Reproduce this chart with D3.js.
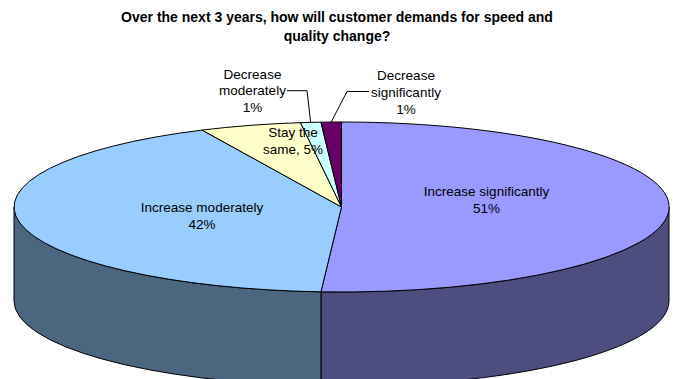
<!DOCTYPE html>
<html>
<head>
<meta charset="utf-8">
<script src="https://cdn.jsdelivr.net/npm/d3@7/dist/d3.min.js"></script>
<style>
  html, body { margin: 0; padding: 0; background: #fff; }
  svg { display: block; }
  text { font-family: "Liberation Sans", Arial, sans-serif; fill: #000; }
</style>
</head>
<body>
<svg id="chart" width="673" height="379"></svg>
<script>
// ---- data ----
const titleLines = ["Over the next 3 years, how will customer demands for speed and", "quality change?"];
const categories = ["Increase significantly", "Increase moderately", "Stay the same", "Decrease moderately", "Decrease significantly"];
const values = [51, 42, 5, 1, 1];
const labelNameLines = [["Increase significantly"], ["Increase moderately"], ["Stay the", "same,"], ["Decrease", "moderately"], ["Decrease", "significantly"]];
const pctInline = [false, false, true, false, false];

// ---- styling / layout ----
const topColors = ["#9999FF", "#99CCFF", "#FFFFCC", "#CCFFFF", "#660066"];
const sideColors = ["#4D4D80", "#4D6680", "#808066", "#668080", "#330033"];
const W = 673, H = 379;
const cx = 341.5, cy = 207, rx = 327.5, ry = 85, depth = 94;

const svg = d3.select("#chart");

// title
svg.append("g").selectAll("text").data(titleLines).join("text")
  .attr("x", 337).attr("y", (d, i) => 22 + i * 19)
  .attr("text-anchor", "middle")
  .style("font-size", "14px").style("font-weight", "bold")
  .text(d => d);

const pie = d3.pie().sort(null).value(d => d).startAngle(0).endAngle(2 * Math.PI);
const arcs = pie(values);

function pt(a, dy) {
  dy = dy || 0;
  return [cx + rx * Math.sin(a), cy - ry * Math.cos(a) + dy];
}
function fmt(p) { return p[0].toFixed(2) + "," + p[1].toFixed(2); }

// side walls (front half only)
const sides = arcs.map((d, i) => {
  const s = Math.max(d.startAngle, Math.PI / 2), e = Math.min(d.endAngle, 3 * Math.PI / 2);
  return s < e ? { s, e, i } : null;
}).filter(Boolean);

svg.append("g").selectAll("path").data(sides).join("path")
  .attr("d", d => `M${fmt(pt(d.s))} A${rx},${ry} 0 0 1 ${fmt(pt(d.e))} L${fmt(pt(d.e, depth))} A${rx},${ry} 0 0 0 ${fmt(pt(d.s, depth))} Z`)
  .attr("fill", d => sideColors[d.i])
  .attr("stroke", "#000").attr("stroke-width", 1).attr("stroke-linejoin", "round");

// top faces
svg.append("g").selectAll("path").data(arcs).join("path")
  .attr("d", d => {
    const large = (d.endAngle - d.startAngle) > Math.PI ? 1 : 0;
    return `M${cx},${cy} L${fmt(pt(d.startAngle))} A${rx},${ry} 0 ${large} 1 ${fmt(pt(d.endAngle))} Z`;
  })
  .attr("fill", (d, i) => topColors[i])
  .attr("stroke", "#000").attr("stroke-width", 1).attr("stroke-linejoin", "round");

// labels
const labelPos = [
  { x: 486.5, y: 196, lh: 16.5 },
  { x: 202, y: 212, lh: 16.5 },
  { x: 293, y: 137, lh: 16.5 },
  { x: 252.5, y: 78.5, lh: 16.5 },
  { x: 406, y: 79.5, lh: 17 }
];
const leaders = [null, null, null, { x0: 287, x1: 307, y: 90.7 }, { x0: 369, x1: 347, y: 91.5 }];

arcs.forEach((d, i) => {
  const pct = Math.round(d.data) + "%";
  let lines = labelNameLines[i].slice();
  if (pctInline[i]) lines[lines.length - 1] += " " + pct; else lines.push(pct);
  const lp = labelPos[i];
  svg.append("g").selectAll("text").data(lines).join("text")
    .attr("x", lp.x).attr("y", (t, j) => lp.y + j * lp.lh)
    .attr("text-anchor", "middle")
    .style("font-size", "13.5px")
    .text(t => t);
  const L = leaders[i];
  if (L) {
    const mid = (d.startAngle + d.endAngle) / 2;
    const e = pt(mid);
    svg.append("polyline")
      .attr("points", `${L.x0},${L.y} ${L.x1},${L.y} ${fmt(e)}`)
      .attr("fill", "none").attr("stroke", "#000").attr("stroke-width", 1);
  }
});
</script>
</body>
</html>
